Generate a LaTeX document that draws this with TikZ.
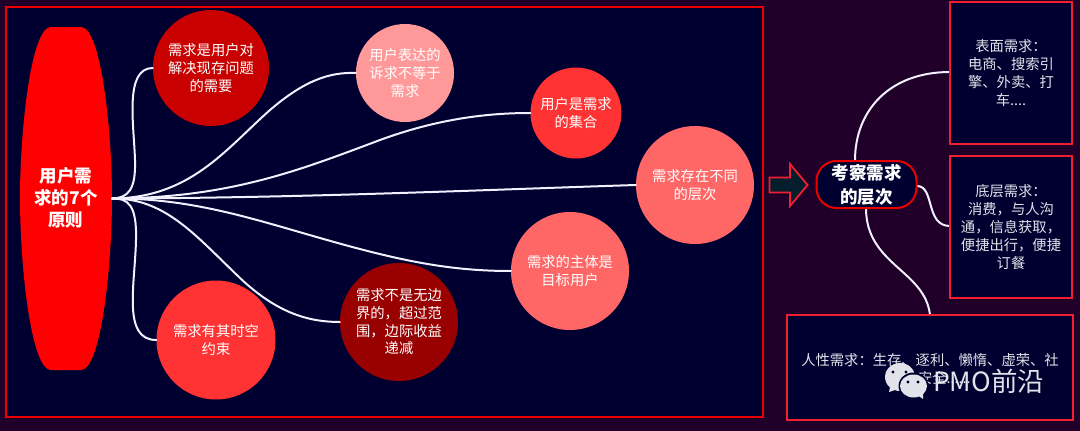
\documentclass[tikz,border=0pt]{standalone}
\usepackage{fontspec}
\setmainfont{Noto Sans CJK SC}
\definecolor{bgc}{HTML}{200028}
\definecolor{panel}{HTML}{000030}
\definecolor{redline}{HTML}{F02030}
\definecolor{c1}{HTML}{C80000}
\definecolor{c2}{HTML}{FF9999}
\definecolor{c3}{HTML}{FF3333}
\definecolor{c4}{HTML}{FF6666}
\definecolor{c5}{HTML}{990000}
\definecolor{arrowfill}{HTML}{051E2D}
\definecolor{wmark}{HTML}{E2E2EA}
\newcommand{\tallstart}{\rule{0pt}{15.5pt}}
\tikzset{
 circ/.style={circle,draw=none,fill=#1,text=white,font=\fontsize{14.3}{17.6}\selectfont,align=center,inner sep=0pt,execute at begin node=\tallstart},
 box/.style={rectangle,draw=redline,line width=2pt,fill=panel,text=wmark,font=\fontsize{14.3}{17.8}\selectfont,align=center,inner sep=0pt,execute at begin node=\tallstart},
 link/.style={draw=white!94!blue,line width=2pt,line cap=round},
}
\begin{document}
\begin{tikzpicture}[x=1pt,y=-1pt]
\useasboundingbox (0,0) rectangle (1080,431);
\fill[bgc] (0,0) rectangle (1080,431);
\draw[draw=red!92!black,fill=panel,line width=2pt] (6,7) rectangle (763,417);
% root shape
\fill[red] (51,27) -- (81,27) .. controls (101,27) and (112,130) .. (112,198) .. controls (112,266) and (101,370) .. (81,370) -- (51,370) .. controls (31,370) and (20,266) .. (20,198) .. controls (20,130) and (31,27) .. (51,27) -- cycle;
\node[text=white,font=\bfseries\fontsize{17.5}{22}\selectfont,align=center,inner sep=0pt] (root) at (66,198) {用户需\\求的7个\\原则};
\coordinate (hub) at (112,198.5);
% child circles
\node[circ=c1,minimum size=116pt] (a) at (211,68) {需求是用户对\\解决现存问题\\的需要};
\node[circ=c2,minimum size=98pt] (b) at (405,73) {用户表达的\\诉求不等于\\需求};
\node[circ=c3,minimum size=91pt] (c) at (576,113) {用户是需求\\的集合};
\node[circ=c4,minimum size=118pt] (d) at (695,185) {需求存在不同\\的层次};
\node[circ=c4,minimum size=118pt] (e) at (570,271) {需求的主体是\\目标用户};
\node[circ=c5,minimum size=118pt] (f) at (399,322) {需求不是无边\\界的，超过范\\围，边际收益\\递减};
\node[circ=c3,minimum size=119pt] (g) at (216,340) {需求有其时空\\约束};
% connectors
\draw[link] (hub) .. controls (128,198) and (136,190) .. (135,160) .. controls (134,125) and (124,68) .. (a.west);
\draw[link] (hub) .. controls (190,198) and (225,150) .. (270,110) .. controls (305,80) and (330,72) .. (b.west);
\draw[link] (hub) .. controls (230,198) and (300,170) .. (380,140) .. controls (440,118) and (490,113) .. (c.west);
\draw[link] (hub) .. controls (300,198) and (480,190) .. (d.west);
\draw[link] (hub) .. controls (190,198) and (250,218) .. (320,238) .. controls (400,261) and (450,271) .. (e.west);
\draw[link] (hub) .. controls (165,198) and (195,235) .. (240,278) .. controls (278,314) and (310,322) .. (f.west);
\draw[link] (hub) .. controls (128,198) and (137,205) .. (136,240) .. controls (135,285) and (122,340) .. (g.west);
% arrow
\draw[draw=redline,fill=arrowfill,line width=1.8pt,line join=miter] (769.5,177.5) -- (790,177.5) -- (790,164) -- (807.5,185) -- (790,206) -- (790,192.5) -- (769.5,192.5) -- cycle;
% right side
\draw[link] (855,160.5) .. controls (855,110) and (890,72) .. (950,72);
\draw[link] (917,186) .. controls (935,186) and (925,226) .. (950,226);
\draw[link] (866,208) .. controls (866,265) and (925,270) .. (930,315);
\node[box,minimum width=122pt,minimum height=142pt] (s1) at (1011,73) {表面需求：\\电商、搜索引\\擎、外卖、打\\车....};
\node[box,minimum width=122pt,minimum height=142pt] (s2) at (1011,227) {底层需求：\\消费，与人沟\\通，信息获取，\\便捷出行，便捷\\订餐};
\node[box,minimum width=286pt,minimum height=105pt,text width=262pt] (s3) at (930,367.5) {人性需求：生存、逐利、懒惰、虚荣、社\\交、安全......};
\node[draw=red!92!black,fill=panel,line width=2pt,rounded corners=20pt,minimum width=100pt,minimum height=47pt,inner sep=0pt,text=white,font=\bfseries\fontsize{17.5}{24}\selectfont,align=center] (mid) at (866.5,184.5) {考察需求\\的层次};
% watermark
\fill[wmark] (900,377) ellipse (15pt and 14pt);
\fill[wmark] (890,387) -- (889,392) -- (898,389) -- cycle;
\fill[panel] (913.5,386) ellipse (15pt and 13.5pt);
\fill[wmark] (913.5,386) ellipse (13.5pt and 11.5pt);
\fill[wmark] (917,395) -- (923,399) -- (923,392) -- cycle;
\foreach \p in {(893,372),(906,372),(908,382),(918,382)} \fill[panel] \p circle (1.6pt);
\node[text=wmark,font=\fontsize{26.5}{30}\selectfont,inner sep=0pt,anchor=west] (wm) at (933,381) {PMO前沿};
\end{tikzpicture}
\end{document}
